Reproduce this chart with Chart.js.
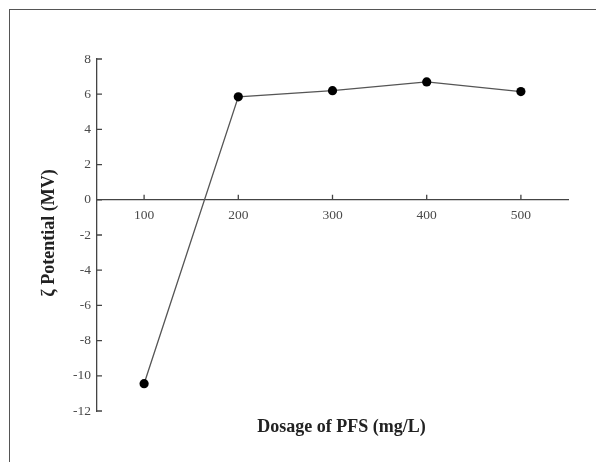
<!DOCTYPE html>
<html>
<head>
<meta charset="utf-8">
<script src="https://cdn.jsdelivr.net/npm/chart.js@4"></script>
<style>
  html, body { margin: 0; padding: 0; background: #fff; }
  #wrap { position: relative; width: 596px; height: 462px; overflow: hidden; }
  #frame {
    position: absolute; left: 9px; top: 9px; right: -5px; bottom: -5px;
    border-left: 1.5px solid #555; border-top: 1.5px solid #555;
  }
  canvas { position: absolute; left: 0; top: 0; }
</style>
</head>
<body>
<div id="wrap">
  <div id="frame"></div>
  <canvas id="chart" width="596" height="462"></canvas>
</div>
<script>
// =========================================================================
// Data
// =========================================================================
const dosage = [100, 200, 300, 400, 500];           // mg/L
const zeta = [-10.45, 5.85, 6.2, 6.7, 6.15];        // mV
const xTicks = [100, 200, 300, 400, 500];
const yTicks = [-12, -10, -8, -6, -4, -2, 0, 2, 4, 6, 8];
const xTitle = "Dosage of PFS (mg/L)";
const yTitle = "\u03B6 Potential (MV)";

const AXIS = "#444";
const TICK_TEXT = "#4a4a4a";
const SERIF = "'Liberation Serif', 'DejaVu Serif', serif";

// Inward tick marks + axis titles (the library only draws outward ticks)
const decorations = {
  id: "decorations",
  afterDraw(chart) {
    const { ctx, chartArea, scales } = chart;
    const xs = scales.x, ys = scales.y;
    const y0 = ys.getPixelForValue(0);
    ctx.save();
    ctx.strokeStyle = AXIS;
    ctx.lineWidth = 1.3;
    ctx.beginPath();
    for (const v of yTicks) {
      const py = ys.getPixelForValue(v);
      ctx.moveTo(chartArea.left, py);
      ctx.lineTo(chartArea.left + 5, py);
    }
    for (const v of xTicks) {
      const px = xs.getPixelForValue(v);
      ctx.moveTo(px, y0);
      ctx.lineTo(px, y0 - 5);
    }
    ctx.stroke();

    ctx.fillStyle = "#222";
    ctx.font = "bold 18px " + SERIF;
    ctx.textAlign = "center";
    ctx.textBaseline = "middle";
    ctx.fillText(xTitle, (chartArea.left + chartArea.right) / 2 + 9, chartArea.bottom + 16);

    ctx.translate(49, (chartArea.top + chartArea.bottom) / 2 - 2);
    ctx.rotate(-Math.PI / 2);
    ctx.fillText(yTitle, 0, 0);
    ctx.restore();
  },
};

new Chart(document.getElementById("chart"), {
  type: "line",
  data: {
    datasets: [
      {
        data: dosage.map((d, i) => ({ x: d, y: zeta[i] })),
        borderColor: "#555",
        borderWidth: 1.3,
        pointRadius: 4.6,
        pointBackgroundColor: "#000",
        pointBorderColor: "#000",
        pointBorderWidth: 0,
        tension: 0,
      },
    ],
  },
  options: {
    responsive: false,
    animation: false,
    layout: { padding: { left: 0, top: 59, right: 28, bottom: 51 } },
    plugins: {
      legend: { display: false },
      tooltip: { enabled: false },
    },
    scales: {
      x: {
        type: "linear",
        position: { y: 0 },
        min: 50,
        max: 550,
        afterBuildTicks: (scale) => {
          scale.ticks = xTicks.map((v) => ({ value: v }));
        },
        grid: { drawOnChartArea: false, drawTicks: false },
        border: { color: AXIS, width: 1.3 },
        ticks: {
          padding: 8,
          color: TICK_TEXT,
          font: { family: SERIF, size: 13.5 },
          maxRotation: 0,
        },
      },
      y: {
        type: "linear",
        min: -12,
        max: 8,
        afterBuildTicks: (scale) => {
          scale.ticks = yTicks.map((v) => ({ value: v }));
        },
        afterFit: (scale) => {
          scale.width = 97;
        },
        grid: { drawOnChartArea: false, drawTicks: false },
        border: { color: AXIS, width: 1.3 },
        ticks: {
          padding: 6,
          color: TICK_TEXT,
          font: { family: SERIF, size: 13.5 },
        },
      },
    },
  },
  plugins: [decorations],
});
</script>
</body>
</html>
